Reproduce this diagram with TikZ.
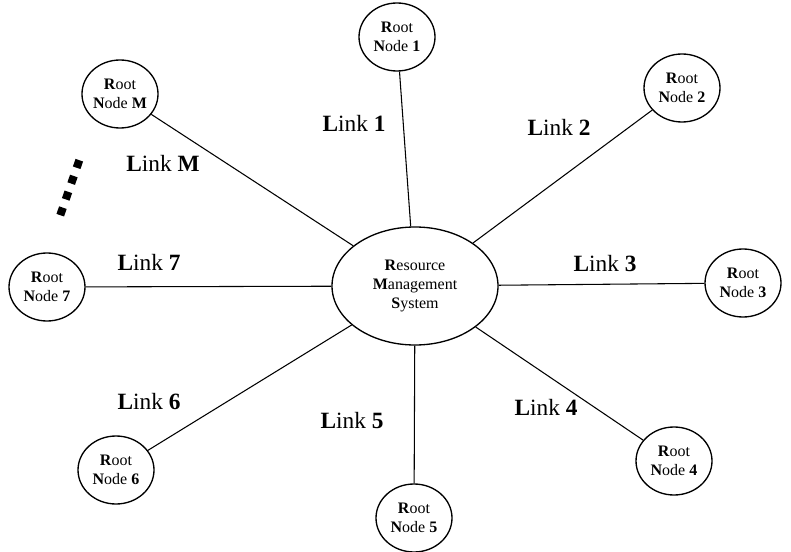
\documentclass[tikz,border=0pt]{standalone}
\usepackage{fontspec}
\setmainfont{Liberation Serif}
\usetikzlibrary{shapes.geometric}
\begin{document}
\begin{tikzpicture}[x=0.75pt,y=-0.75pt,
 root/.style={ellipse,draw,line width=1pt,minimum width=57pt,minimum height=51pt,inner sep=0pt,align=center,font=\fontsize{12}{14.25}\selectfont},
 rms/.style={root,minimum width=124.5pt,minimum height=88.5pt},
 link/.style={line width=0.8pt},
 lbl/.style={font=\fontsize{17.5}{20}\selectfont, inner sep=0pt}
]
\useasboundingbox (0,0) rectangle (791,552);
\node[rms] (c) at (415,286) {\textbf{R}esource\\\textbf{M}anagement\\\textbf{S}ystem};
\node[root] (n1) at (397,37) {\textbf{R}oot\\\textbf{N}ode \textbf{1}};
\node[root] (n2) at (682,88) {\textbf{R}oot\\\textbf{N}ode \textbf{2}};
\node[root] (n3) at (743,283) {\textbf{R}oot\\\textbf{N}ode \textbf{3}};
\node[root] (n4) at (674,461) {\textbf{R}oot\\\textbf{N}ode \textbf{4}};
\node[root] (n5) at (414,518) {\textbf{R}oot\\\textbf{N}ode \textbf{5}};
\node[root] (n6) at (116,470) {\textbf{R}oot\\\textbf{N}ode \textbf{6}};
\node[root] (n7) at (47,287) {\textbf{R}oot\\\textbf{N}ode \textbf{7}};
\node[root] (nm) at (120,94) {\textbf{R}oot\\\textbf{N}ode \textbf{M}};
\foreach \n in {n1,n2,n3,n4,n5,n6,n7,nm} \draw[link] (c) -- (\n);
\node[lbl] (l1) at (354,123) {\textbf{L}ink \textbf{1}};
\node[lbl] (l2) at (559,127) {\textbf{L}ink \textbf{2}};
\node[lbl] (l3) at (605,264) {\textbf{L}ink \textbf{3}};
\node[lbl] (l4) at (546,407) {\textbf{L}ink \textbf{4}};
\node[lbl] (l5) at (352,421) {\textbf{L}ink \textbf{5}};
\node[lbl] (l6) at (149,402) {\textbf{L}ink \textbf{6}};
\node[lbl] (l7) at (149,262) {\textbf{L}ink \textbf{7}};
\node[lbl] (lm) at (163,163) {\textbf{L}ink \textbf{M}};
\draw[line width=6pt, dash pattern=on 6pt off 6.55pt] (79.3,160.2) -- (59.7,216.8);
\end{tikzpicture}
\end{document}
